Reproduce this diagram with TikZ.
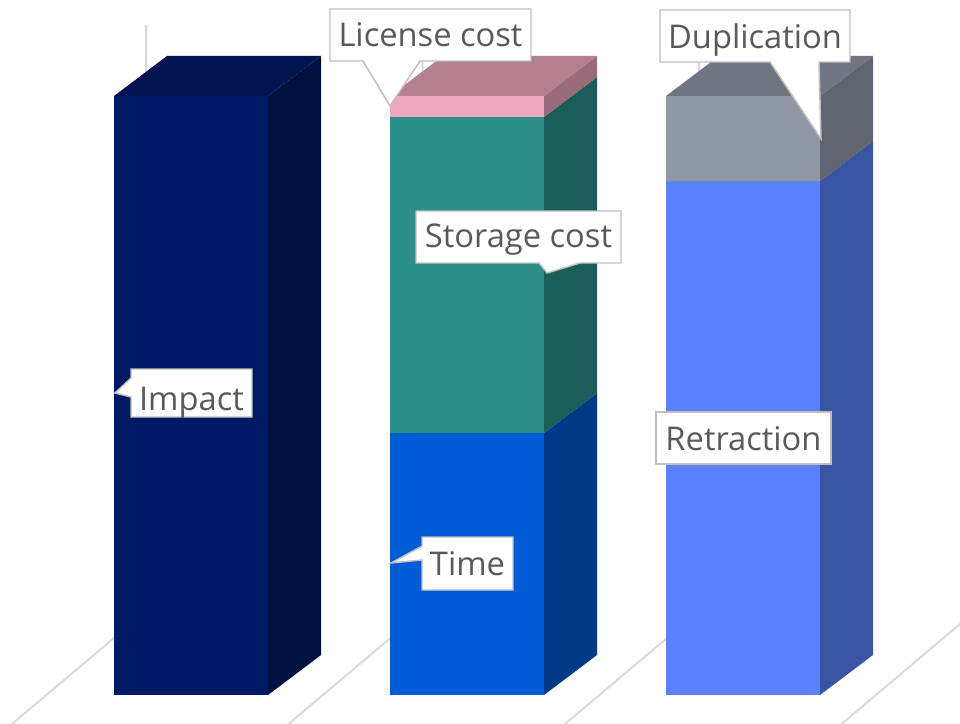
\documentclass[tikz,border=0pt]{standalone}
\usepackage{fontspec}
\setmainfont{Open Sans}
\definecolor{gridc}{HTML}{D9D9D9}
\definecolor{impF}{HTML}{001965}
\definecolor{impS}{HTML}{00103F}
\definecolor{impT}{HTML}{011350}
\definecolor{timF}{HTML}{005BD6}
\definecolor{timS}{HTML}{003A87}
\definecolor{stoF}{HTML}{2A8F88}
\definecolor{stoS}{HTML}{1B5E59}
\definecolor{licF}{HTML}{EFA6BE}
\definecolor{licS}{HTML}{9A6B7A}
\definecolor{licT}{HTML}{B47F8F}
\definecolor{retF}{HTML}{5B81FF}
\definecolor{retS}{HTML}{3A54A5}
\definecolor{dupF}{HTML}{9097A4}
\definecolor{dupS}{HTML}{5F646E}
\definecolor{dupT}{HTML}{6F7681}
\definecolor{callb}{HTML}{BFBFBF}
\definecolor{txt}{HTML}{595959}
\tikzset{
  gridline/.style={draw=gridc, line width=1.5pt},
  callout/.style={draw=callb, fill=white, line width=1.1pt, line join=miter},
  lbl/.style={text=txt, font=\fontsize{24.5}{28}\selectfont, inner sep=0pt, anchor=base},
}
\begin{document}
\begin{tikzpicture}[x=0.75pt,y=-0.75pt]
\useasboundingbox (0,0) rectangle (960,724);
\begin{scope}
\clip (0,0) rectangle (960,724);
\foreach \gx in {146,422.5,699,975.5}{
  \draw[gridline] (\gx,25) -- (\gx,611) -- ++(-134,113);
}
\end{scope}
% Bar 1: Impact
\fill[impF] (114,96) rectangle (268,695);
\fill[impS] (268,96) -- (321,56) -- (321,655) -- (268,695) -- cycle;
\fill[impT] (114,96) -- (167,56) -- (321,56) -- (268,96) -- cycle;
% Bar 2
\fill[timF] (390,433) rectangle (544,695);
\fill[timS] (544,433) -- (597,393) -- (597,655) -- (544,695) -- cycle;
\fill[stoF] (390,117) rectangle (544,433);
\fill[stoS] (544,117) -- (597,77) -- (597,393) -- (544,433) -- cycle;
\fill[licF] (390,96) rectangle (544,117);
\fill[licS] (544,96) -- (597,56) -- (597,77) -- (544,117) -- cycle;
\fill[licT] (390,96) -- (443,56) -- (597,56) -- (544,96) -- cycle;
% Bar 3
\fill[retF] (666,181) rectangle (820,695);
\fill[retS] (820,181) -- (873,141) -- (873,655) -- (820,695) -- cycle;
\fill[dupF] (666,96) rectangle (820,181);
\fill[dupS] (820,96) -- (873,56) -- (873,141) -- (820,181) -- cycle;
\fill[dupT] (666,96) -- (719,56) -- (873,56) -- (820,96) -- cycle;
% Callouts
\draw[callout] (131,369) -- (252,369) -- (252,417) -- (131,417) -- (131,397) -- (115,393) -- (131,378) -- cycle;
\node[lbl] (impact) at (191.5,410) {Impact};
\draw[callout] (422,537) -- (513,537) -- (513,590) -- (422,590) -- (422,560) -- (391,563) -- (422,546) -- cycle;
\node[lbl] (time) at (467.5,575) {Time};
\draw[callout] (416,211) -- (621,211) -- (621,263) -- (580,263) -- (547,273) -- (539,263) -- (416,263) -- cycle;
\node[lbl] (storage) at (518.5,247) {Storage cost};
\draw[callout] (330,9) -- (531,9) -- (531,61) -- (420,61) -- (390,106) -- (363,61) -- (330,61) -- cycle;
\node[lbl] (license) at (430.5,47) {License cost};
\draw[callout] (660,10) -- (850,10) -- (850,62) -- (819,62) -- (821,139) -- (770,62) -- (660,62) -- cycle;
\node[lbl] (dup) at (755,49) {Duplication};
\draw[callout] (656,412) rectangle (831,464);
\node[lbl] (retr) at (743.5,450) {Retraction};
\end{tikzpicture}
\end{document}
